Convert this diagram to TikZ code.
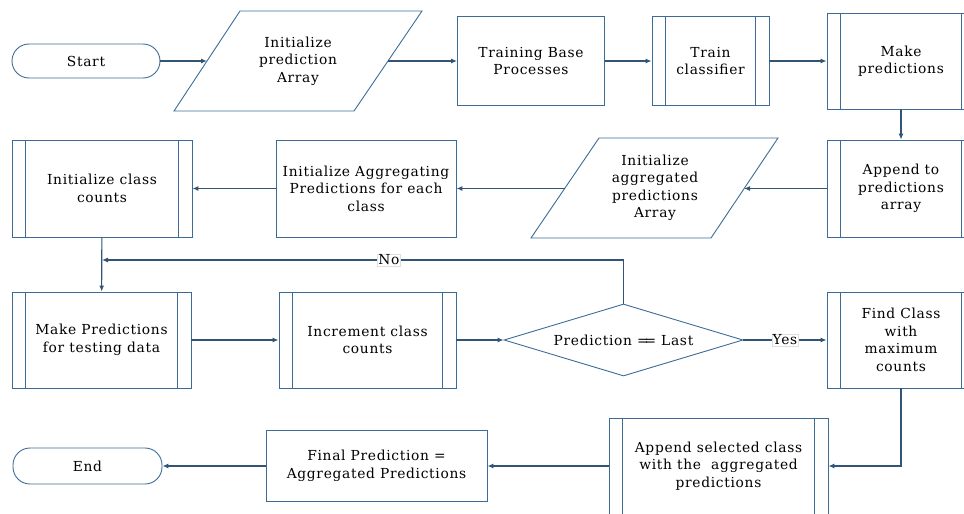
\documentclass[tikz,border=0pt]{standalone}
\usepackage{fontspec}
\setmainfont{DejaVu Serif}[LetterSpace=5]
\usetikzlibrary{arrows.meta,shapes.geometric}
\definecolor{shapecol}{RGB}{60,108,150}
\definecolor{linecol}{RGB}{50,85,118}
\begin{document}
\begin{tikzpicture}[x=1pt,y=-1pt,
  font=\fontsize{13.8}{17.5}\selectfont,
  txt/.style={align=center,text=black,inner sep=0pt},
  box/.style={draw=shapecol,line width=0.9pt,align=center,inner sep=2pt},
  term/.style={box,rounded corners=17pt,minimum width=148pt,minimum height=34pt},
  arr/.style={draw=linecol,line width=1.1pt,-{Latex[length=6pt,width=5pt]}},
  lbl/.style={fill=white,draw=gray!25,line width=0.4pt,inner sep=1pt,text=black}]
\useasboundingbox (0,0) rectangle (964,514);
\clip (0,0) rectangle (964,514);

% row 1
\node[term] (start) at (86,61) {Start};
\draw[shapecol,line width=0.9pt] (240,11) -- (422,11) -- (354,111) -- (174,111) -- cycle;
\node[txt] (p1) at (298,61) {Initialize\\prediction\\Array};
\coordinate (p1w) at (207,61);
\coordinate (p1e) at (388,61);
\node[box,minimum width=147pt,minimum height=89pt] (train) at (531,61) {Training Base\\Processes};
\node[box,minimum width=117pt,minimum height=89pt] (clf) at (710.5,61) {Train\\classifier};
\node[box,minimum width=148pt,minimum height=96pt] (mk) at (901,61) {Make\\predictions};

% row 2
\node[box,minimum width=148pt,minimum height=97pt] (app) at (901,188.5) {Append to\\predictions\\array};
\draw[shapecol,line width=0.9pt] (599,138) -- (778,138) -- (711,238) -- (531,238) -- cycle;
\node[txt] (p2) at (655,188) {Initialize\\aggregated\\predictions\\Array};
\coordinate (p2w) at (565,188.5);
\coordinate (p2e) at (744,188.5);
\node[box,minimum width=180pt,minimum height=97pt] (agg) at (366,188.5) {Initialize Aggregating\\Predictions for each\\class};
\node[box,minimum width=180pt,minimum height=97pt] (icc) at (102,188.5) {Initialize class\\counts};

% row 3
\node[box,minimum width=179pt,minimum height=96pt] (mpt) at (101.5,340) {Make Predictions\\for testing data};
\node[box,minimum width=177pt,minimum height=96pt] (inc) at (367.5,340) {Increment class\\counts};
\node[box,diamond,aspect=3.3,minimum width=239pt,minimum height=72pt,inner sep=0pt] (dia) at (623.5,340) {Prediction =\kern-0.3em= Last};
\node[box,minimum width=148pt,minimum height=96pt] (fc) at (901,340) {Find Class\\with\\maximum\\counts};

% row 4
\node[box,minimum width=219pt,minimum height=96pt] (asc) at (718.5,466) {Append selected class\\with the\ \ aggregated\\predictions};
\node[box,minimum width=221pt,minimum height=71pt] (fin) at (376.5,466) {Final Prediction =\\Aggregated Predictions};
\node[term,minimum width=149pt,minimum height=36pt] (end) at (87.5,466) {End};

% predefined-process inner lines
\foreach \n in {clf,mk,app,icc,mpt,inc,fc,asc}{
  \draw[shapecol,line width=0.9pt] ([xshift=14pt]\n.north west) -- ([xshift=14pt]\n.south west);
  \draw[shapecol,line width=0.9pt] ([xshift=-14pt]\n.north east) -- ([xshift=-14pt]\n.south east);
}

% connectors
\coordinate (jn) at (102,260);
\draw[arr] (start) -- (p1w);
\draw[arr] (p1e) -- (train);
\draw[arr] (train) -- (clf);
\draw[arr] (clf) -- (mk);
\draw[arr] (mk) -- (app);
\draw[arr] (app) -- (p2e);
\draw[arr] (p2w) -- (agg);
\draw[arr] (agg) -- (icc);
\draw[arr] (icc) -- (mpt);
\draw[arr] (dia.north) |- node[lbl,pos=0.725] {No} (jn);
\draw[arr] (mpt) -- (inc);
\draw[arr] (inc) -- (dia);
\draw[arr] (dia) -- node[lbl] {Yes} (fc);
\draw[arr] (fc.south) |- (asc.east);
\draw[arr] (asc) -- (fin);
\draw[arr] (fin) -- (end);
\end{tikzpicture}
\end{document}
